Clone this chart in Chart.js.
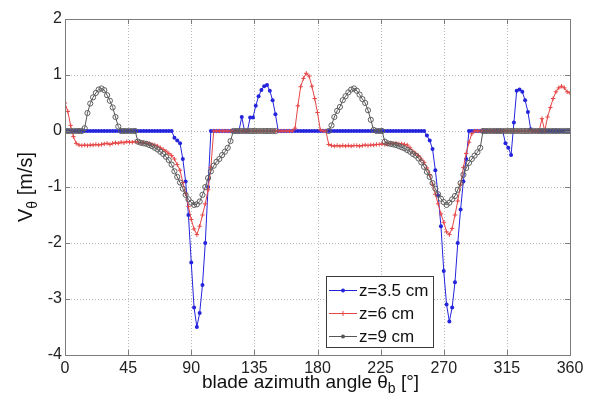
<!DOCTYPE html>
<html>
<head>
<meta charset="utf-8">
<script src="https://cdn.jsdelivr.net/npm/chart.js@4.4.1/dist/chart.umd.min.js"></script>
<style>
  html, body { margin: 0; padding: 0; background: #fff; }
  #wrap { width: 590px; height: 400px; position: relative; }
</style>
</head>
<body>
<div id="wrap"><canvas id="vthetaChart"></canvas></div>
<script>
// blade azimuth angle (deg)
const angles = [
  0, 2, 4, 6, 8, 10, 12, 14, 16, 18,
  20, 22, 24, 26, 28, 30, 32, 34, 36, 38,
  40, 42, 44, 46, 48, 50, 52, 54, 56, 58,
  60, 62, 64, 66, 68, 70, 72, 74, 76, 78,
  80, 82, 84, 86, 88, 90, 92, 94, 96, 98,
  100, 102, 104, 106, 108, 110, 112, 114, 116, 118,
  120, 122, 124, 126, 128, 130, 132, 134, 136, 138,
  140, 142, 144, 146, 148, 150, 152, 154, 156, 158,
  160, 162, 164, 166, 168, 170, 172, 174, 176, 178,
  180, 182, 184, 186, 188, 190, 192, 194, 196, 198,
  200, 202, 204, 206, 208, 210, 212, 214, 216, 218,
  220, 222, 224, 226, 228, 230, 232, 234, 236, 238,
  240, 242, 244, 246, 248, 250, 252, 254, 256, 258,
  260, 262, 264, 266, 268, 270, 272, 274, 276, 278,
  280, 282, 284, 286, 288, 290, 292, 294, 296, 298,
  300, 302, 304, 306, 308, 310, 312, 314, 316, 318,
  320, 322, 324, 326, 328, 330, 332, 334, 336, 338,
  340, 342, 344, 346, 348, 350, 352, 354, 356, 358,
  360
];

// V_theta [m/s] at z = 3.5 cm
const vz35 = [
  0, 0, 0, 0, 0, 0, 0, 0, 0, 0,
  0, 0, 0, 0, 0, 0, 0, 0, 0, 0,
  0, 0, 0, 0, 0, 0, 0, 0, 0, 0,
  0, 0, 0, 0, 0, 0, 0, 0, 0, -0.12,
  -0.17, -0.22, -0.5, -0.9, -1.5, -2.35, -3.15, -3.5, -3.25, -2.75,
  -2.0, -1.0, 0, 0, 0, 0, 0, 0, 0, 0,
  0, 0, 0, 0.25, 0, 0, 0.24, 0.24, 0.45, 0.62,
  0.73, 0.8, 0.82, 0.72, 0.55, 0.3, 0, 0, 0, 0,
  0, 0, 0, 0, 0, 0, 0, 0, 0, 0,
  0, 0, 0, 0, 0, 0, 0, 0, 0, 0,
  0, 0, 0, 0, 0, 0, 0, 0, 0, 0,
  0, 0, 0, 0, 0, 0, 0, 0, 0, 0,
  0, 0, 0, 0, 0, 0, 0, 0, 0, -0.08,
  -0.17, -0.32, -0.7, -1.15, -1.7, -2.5, -3.1, -3.4, -3.15, -2.7,
  -2.0, -1.4, -0.9, -0.5, 0, 0, 0, 0, 0, 0,
  0, 0, 0, 0, 0, 0, 0, -0.22, -0.3, -0.43,
  0.15, 0.72, 0.74, 0.7, 0.55, 0.34, 0.03, 0, 0, 0,
  0, 0, 0, 0, 0, 0, 0, 0, 0, 0,
  0
];

// V_theta [m/s] at z = 6 cm
const vz6 = [
  0.5, 0.35, 0.1, -0.1, -0.22, -0.25, -0.26, -0.25, -0.26, -0.25,
  -0.25, -0.24, -0.25, -0.24, -0.23, -0.22, -0.24, -0.22, -0.21, -0.22,
  -0.2, -0.21, -0.19, -0.2, -0.2, -0.19, -0.2, -0.21, -0.21, -0.22,
  -0.22, -0.24, -0.25, -0.27, -0.3, -0.33, -0.36, -0.4, -0.44, -0.5,
  -0.6, -0.7, -0.92, -1.12, -1.35, -1.58, -1.75, -1.85, -1.7, -1.5,
  -1.3, -1.05, -0.65, 0, 0, 0, 0, 0, 0, 0,
  0, 0, 0, 0, 0, 0, 0, 0, 0, 0,
  0, 0, 0, 0, 0, 0, 0, 0, 0, 0,
  0, 0, 0.05, 0.45, 0.79, 0.94, 1.03, 0.98, 0.8, 0.58,
  0.33, 0.02, 0, 0, -0.24, -0.26, -0.27, -0.26, -0.27, -0.26,
  -0.27, -0.26, -0.27, -0.26, -0.26, -0.27, -0.26, -0.25, -0.26, -0.25,
  -0.25, -0.24, -0.24, -0.23, -0.24, -0.23, -0.22, -0.23, -0.22, -0.23,
  -0.23, -0.24, -0.25, -0.3, -0.36, -0.4, -0.44, -0.5, -0.56, -0.66,
  -0.78, -0.95, -1.13, -1.3, -1.48, -1.63, -1.8, -1.85, -1.74, -1.5,
  -1.25, -0.95, -0.65, -0.4, -0.2, -0.05, 0, 0, 0, 0,
  0, 0, 0, 0, 0, 0, 0, 0, 0, 0,
  0, 0, 0, 0, 0, 0, 0, 0, 0, 0,
  0.22, 0, 0.25, 0.42, 0.58, 0.7, 0.77, 0.8, 0.77, 0.7,
  0.68
];

// V_theta [m/s] at z = 9 cm (gap where no points are visible)
const vz9 = [
  0, 0, 0, 0, 0, 0, 0, 0.05, 0.32, 0.49,
  0.6, 0.68, 0.74, 0.76, 0.73, 0.64, 0.54, 0.42, 0.25, 0.08,
  0, 0, 0, 0, 0, 0, -0.19, -0.21, -0.22, -0.23,
  -0.25, -0.27, -0.3, -0.33, -0.37, -0.41, -0.46, -0.52, -0.6, -0.72,
  -0.82, -0.92, -1.03, -1.14, -1.22, -1.28, -1.32, -1.31, -1.26, -1.14,
  -1.0, -0.84, -0.72, -0.62, -0.55, -0.5, -0.43, -0.37, -0.3, -0.18,
  0, 0, 0, 0, 0, 0, 0, 0, 0, 0,
  0, 0, 0, 0, 0, 0, null, null, null, null,
  null, null, null, null, null, null, null, null, null, null,
  null, null, null, null, 0, 0.1, 0.25, 0.36, 0.43, 0.55,
  0.62, 0.69, 0.74, 0.76, 0.72, 0.65, 0.57, 0.5, 0.37, 0.2,
  0.02, 0, 0, 0, -0.19, -0.22, -0.23, -0.24, -0.25, -0.27,
  -0.29, -0.31, -0.34, -0.37, -0.41, -0.44, -0.49, -0.56, -0.64, -0.73,
  -0.82, -0.93, -1.03, -1.13, -1.21, -1.27, -1.32, -1.28, -1.22, -1.16,
  -1.05, -0.93, -0.78, -0.66, -0.57, -0.5, -0.44, -0.38, -0.3, 0,
  0, 0, 0, 0, 0, 0, 0, 0, 0, 0,
  0, 0, 0, 0, 0, 0, 0, 0, 0, 0,
  0, 0, 0, 0, 0, 0, 0, 0, 0, 0,
  0
];

const seriesNames = ['z=3.5 cm', 'z=6 cm', 'z=9 cm'];
const xTicks = [0, 45, 90, 135, 180, 225, 270, 315, 360];
const yTicks = [-4, -3, -2, -1, 0, 1, 2];

const FONT = '"Liberation Sans", Arial, sans-serif';
const BLUE = '#2424dc';
const RED = '#e64646';
const GREY = '#555555';

function pairs(vals) {
  return angles.map((a, i) => ({ x: a, y: vals[i] }));
}

// small marker drawing for the legend
function marker(ctx, style, x, y, color) {
  ctx.save();
  ctx.strokeStyle = color;
  ctx.fillStyle = color;
  ctx.lineWidth = 1;
  if (style === 'cross') {
    ctx.beginPath();
    ctx.moveTo(x - 2.5, y); ctx.lineTo(x + 2.5, y);
    ctx.moveTo(x, y - 2.5); ctx.lineTo(x, y + 2.5);
    ctx.stroke();
  } else {
    ctx.beginPath(); ctx.arc(x, y, 2, 0, Math.PI * 2); ctx.fill();
  }
  ctx.restore();
}

const decorations = {
  id: 'decorations',
  // dotted matlab-style grid under the data
  beforeDatasetsDraw(chart) {
    const { ctx, chartArea: a, scales: { x, y } } = chart;
    ctx.save();
    ctx.strokeStyle = '#b8b8b8';
    ctx.lineWidth = 1;
    ctx.setLineDash([1, 2]);
    ctx.beginPath();
    xTicks.forEach(v => {
      const px = Math.round(x.getPixelForValue(v)) + 0.5;
      ctx.moveTo(px, a.top); ctx.lineTo(px, a.bottom);
    });
    yTicks.forEach(v => {
      const py = Math.round(y.getPixelForValue(v)) + 0.5;
      ctx.moveTo(a.left, py); ctx.lineTo(a.right, py);
    });
    ctx.stroke();
    ctx.restore();
  },
  afterDraw(chart) {
    const { ctx, chartArea: a, scales: { x, y } } = chart;
    ctx.save();

    // axes box
    ctx.strokeStyle = '#7c7c7c';
    ctx.lineWidth = 1;
    ctx.strokeRect(a.left + 0.5, a.top + 0.5, a.right - a.left, a.bottom - a.top);

    // inward tick marks, all four sides
    ctx.beginPath();
    xTicks.forEach(v => {
      const px = Math.round(x.getPixelForValue(v)) + 0.5;
      ctx.moveTo(px, a.bottom); ctx.lineTo(px, a.bottom - 5);
      ctx.moveTo(px, a.top); ctx.lineTo(px, a.top + 5);
    });
    yTicks.forEach(v => {
      const py = Math.round(y.getPixelForValue(v)) + 0.5;
      ctx.moveTo(a.left, py); ctx.lineTo(a.left + 5, py);
      ctx.moveTo(a.right, py); ctx.lineTo(a.right - 5, py);
    });
    ctx.stroke();

    ctx.fillStyle = '#111';
    ctx.textBaseline = 'alphabetic';
    ctx.textAlign = 'left';

    // x axis title: blade azimuth angle θ_b [°]
    const big = '19px ' + FONT, small = '14px ' + FONT;
    ctx.font = big;
    const p1 = 'blade azimuth angle \u03b8';
    const w1 = ctx.measureText(p1).width;
    ctx.font = small;
    const w2 = ctx.measureText('b').width;
    ctx.font = big;
    const p3 = ' [\u00b0]';
    const w3 = ctx.measureText(p3).width;
    const sx = (a.left + a.right) / 2 - 7 - (w1 + w2 + w3) / 2;
    const by = 388;
    ctx.fillText(p1, sx, by);
    ctx.font = small;
    ctx.fillText('b', sx + w1, by + 5);
    ctx.font = big;
    ctx.fillText(p3, sx + w1 + w2, by);

    // y axis title: V_θ [m/s]
    ctx.save();
    ctx.translate(32, (a.top + a.bottom) / 2);
    ctx.rotate(-Math.PI / 2);
    const ybig = '20px ' + FONT, ysmall = '14px ' + FONT;
    ctx.font = ybig;
    const q1w = ctx.measureText('V').width;
    const q3 = ' [m/s]';
    const q3w = ctx.measureText(q3).width;
    ctx.font = ysmall;
    const q2w = ctx.measureText('\u03b8').width;
    const tx = -(q1w + q2w + q3w) / 2;
    ctx.font = ybig;
    ctx.fillText('V', tx, 0);
    ctx.font = ysmall;
    ctx.fillText('\u03b8', tx + q1w, 5);
    ctx.font = ybig;
    ctx.fillText(q3, tx + q1w + q2w, 0);
    ctx.restore();

    // legend box inside the axes
    const lx = a.left + 261, ly = a.top + 257, lw = 107, lh = 71;
    ctx.fillStyle = '#fff';
    ctx.fillRect(lx, ly, lw, lh);
    ctx.strokeStyle = '#3a3a3a';
    ctx.strokeRect(lx + 0.5, ly + 0.5, lw, lh);
    const styles = [
      { c: BLUE, m: 'dot' },
      { c: RED, m: 'cross' },
      { c: GREY, m: 'dot' }
    ];
    ctx.font = '17px ' + FONT;
    ctx.textBaseline = 'middle';
    seriesNames.forEach((name, i) => {
      const yy = ly + 14 + i * 23;
      ctx.strokeStyle = styles[i].c;
      ctx.lineWidth = 1;
      ctx.beginPath();
      ctx.moveTo(lx + 3, yy + 0.5); ctx.lineTo(lx + 31, yy + 0.5);
      ctx.stroke();
      marker(ctx, styles[i].m, lx + 17, yy + 0.5, styles[i].c);
      ctx.fillStyle = '#111';
      ctx.fillText(name, lx + 33, yy + 1);
    });

    ctx.restore();
  }
};

const ctx = document.getElementById('vthetaChart').getContext('2d');
const vthetaChart = new Chart(ctx, {
  type: 'line',
  data: {
    datasets: [{
      label: seriesNames[0],
      data: pairs(vz35),
      borderColor: BLUE,
      backgroundColor: BLUE,
      borderWidth: 1,
      pointStyle: 'circle',
      pointRadius: 2,
      pointBorderWidth: 0,
      order: 3
    }, {
      label: seriesNames[1],
      data: pairs(vz6),
      borderColor: RED,
      backgroundColor: RED,
      borderWidth: 1,
      pointStyle: 'cross',
      pointRadius: 2.2,
      pointBorderWidth: 1,
      order: 2
    }, {
      label: seriesNames[2],
      data: pairs(vz9),
      borderColor: GREY,
      backgroundColor: 'rgba(255,255,255,0)',
      borderWidth: 1,
      pointStyle: 'circle',
      pointRadius: 2.6,
      pointBorderColor: '#5e5e5e',
      pointBorderWidth: 1,
      order: 1
    }]
  },
  options: {
    responsive: true,
    maintainAspectRatio: false,
    animation: false,
    spanGaps: false,
    layout: { padding: { left: 0, right: 20, top: 19, bottom: 0 } },
    plugins: {
      legend: { display: false },
      tooltip: { enabled: false }
    },
    scales: {
      x: {
        type: 'linear',
        min: 0,
        max: 360,
        afterBuildTicks: s => { s.ticks = xTicks.map(v => ({ value: v })); },
        afterFit: s => { s.height = 45; },
        grid: { display: false, drawTicks: false },
        border: { display: false },
        ticks: {
          padding: 4,
          color: '#222',
          font: { family: FONT, size: 16 },
          maxRotation: 0
        }
      },
      y: {
        min: -4,
        max: 2,
        afterBuildTicks: s => { s.ticks = yTicks.map(v => ({ value: v })); },
        afterFit: s => { s.width = 65; },
        grid: { display: false, drawTicks: false },
        border: { display: false },
        ticks: {
          padding: 3,
          color: '#222',
          font: { family: FONT, size: 16 }
        }
      }
    }
  },
  plugins: [decorations]
});
</script>
</body>
</html>
